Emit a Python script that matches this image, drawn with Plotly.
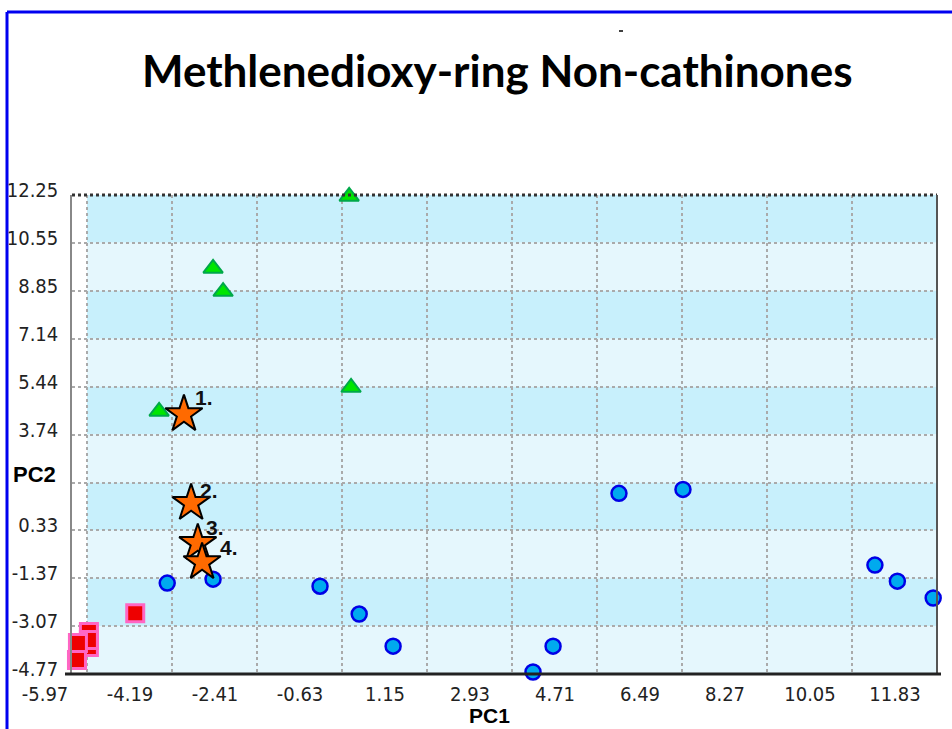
import plotly.graph_objects as go

# ---------------- data ----------------
x_ticks = [-5.97, -4.19, -2.41, -0.63, 1.15, 2.93, 4.71, 6.49, 8.27, 10.05, 11.83]
x_ticklabels = ["-5.97", "-4.19", "-2.41", "-0.63", "1.15", "2.93", "4.71", "6.49", "8.27", "10.05", "11.83"]
y_ticks = [12.25, 10.55, 8.85, 7.14, 5.44, 3.74, 2.03, 0.33, -1.37, -3.07, -4.77]
y_ticklabels = ["12.25", "10.55", "8.85", "7.14", "5.44", "3.74", "", "0.33", "-1.37", "-3.07", "-4.77"]

tri_x = [-0.48, -3.33, -3.12, -0.44, -4.46]
tri_y = [12.20, 9.64, 8.82, 5.41, 4.56]

circ_x = [-4.29, -3.33, -1.09, -0.27, 0.44, 3.79, 3.37, 5.17, 6.51, 10.53, 11.00, 11.75]
circ_y = [-1.54, -1.40, -1.65, -2.64, -3.78, -3.78, -4.70, 1.65, 1.79, -0.90, -1.47, -2.07]

sq_x = [-4.96, -5.93, -5.93, -5.93, -6.16, -6.18]
sq_y = [-2.61, -3.81, -3.28, -3.56, -3.67, -4.27]

star_x = [-3.94, -3.79, -3.65, -3.56]
star_y = [4.46, 1.30, -0.12, -0.80]
star_labels = ["1.", "2.", "3.", "4."]
label_dx = [20, 18, 17, 27]
label_dy = [17, 13, 16, 15]

title_text = "Methlenedioxy-ring Non-cathinones"

# ---------------- figure ----------------
W, H = 952, 729
ML, MR, MT, MB = 72, 15, 195, 55
PW = W - ML - MR
PH = H - MT - MB


def px_x(p):
    return (p - ML) / PW


def px_y(p):
    return (H - MB - p) / PH


fig = go.Figure()

fig.add_trace(go.Scatter(
    x=sq_x, y=sq_y, mode="markers", cliponaxis=False,
    marker=dict(symbol="square", size=17, color="#ee0000",
                line=dict(color="#ff66c4", width=3)),
    showlegend=False))

fig.add_trace(go.Scatter(
    x=circ_x, y=circ_y, mode="markers", cliponaxis=False,
    marker=dict(symbol="circle", size=15, color="#00aaee",
                line=dict(color="#0000e6", width=2.5)),
    showlegend=False))

fig.add_trace(go.Scatter(
    x=tri_x, y=tri_y, mode="markers", cliponaxis=False,
    marker=dict(symbol="triangle-up", size=17, color="#00e600",
                line=dict(color="#00a84a", width=2)),
    showlegend=False))

fig.add_trace(go.Scatter(
    x=star_x, y=star_y, mode="markers", cliponaxis=False,
    marker=dict(symbol="star", size=28, color="#ff6a00",
                line=dict(color="#000000", width=2)),
    showlegend=False))

for xv, yv, t, dx, dy in zip(star_x, star_y, star_labels, label_dx, label_dy):
    fig.add_annotation(x=xv, y=yv, text="<b>" + t + "</b>", showarrow=False, xshift=dx, yshift=dy,
                       font=dict(family="Liberation Sans, Arial", size=21, color="#111",
                                 weight="bold"),
                       xanchor="center", yanchor="middle")

# background bands
dark = "rgb(200,240,252)"
light = "rgb(229,247,253)"
for i in range(len(y_ticks) - 1):
    fig.add_shape(type="rect", xref="x", yref="y",
                  x0=x_ticks[0], x1=x_ticks[-1], y0=y_ticks[i + 1], y1=y_ticks[i],
                  fillcolor=dark if i % 2 == 0 else light, line=dict(width=0),
                  layer="below")

# plot frame
fig.add_shape(type="line", xref="paper", yref="paper", x0=0, x1=1, y0=1, y1=1,
              line=dict(color="#333", width=3, dash="dot"))
fig.add_shape(type="line", xref="paper", yref="paper", x0=1, x1=1, y0=0, y1=1,
              line=dict(color="#555", width=2))
fig.add_shape(type="line", xref="paper", yref="paper", x0=px_x(65), x1=px_x(941), y0=0, y1=0,
              line=dict(color="#222", width=3))

# blue slide frame
fig.add_shape(type="line", xref="paper", yref="paper", x0=px_x(7), x1=px_x(960),
              y0=px_y(12), y1=px_y(12), line=dict(color="#0000f0", width=3))
fig.add_shape(type="line", xref="paper", yref="paper", x0=px_x(7), x1=px_x(7),
              y0=px_y(12), y1=px_y(740), line=dict(color="#0000f0", width=3))
# tiny dash near the top
fig.add_shape(type="line", xref="paper", yref="paper", x0=px_x(619), x1=px_x(623),
              y0=px_y(31), y1=px_y(31), line=dict(color="#000", width=1.5))

# title and axis titles
fig.add_annotation(xref="paper", yref="paper", x=px_x(497), y=px_y(70), text="<b>" + title_text + "</b>",
                   showarrow=False, xanchor="center", yanchor="middle",
                   font=dict(family="Lato, Open Sans, sans-serif", size=44, color="#000"))
fig.add_annotation(xref="paper", yref="paper", x=px_x(34), y=px_y(474), text="<b>PC2</b>",
                   showarrow=False, xanchor="center", yanchor="middle",
                   font=dict(family="Liberation Sans, Arial", size=22, color="#000"))
fig.add_annotation(xref="paper", yref="paper", x=px_x(489), y=px_y(715), text="<b>PC1</b>",
                   showarrow=False, xanchor="center", yanchor="middle",
                   font=dict(family="Liberation Sans, Arial", size=21, color="#000"))

tick_font = dict(family="Liberation Sans Narrow, DejaVu Sans Condensed, Liberation Sans, Arial, sans-serif",
                 size=20, color="#222")

fig.update_xaxes(range=[x_ticks[0] - 15 / (85 / 1.78), x_ticks[-1]],
                 tickmode="array", tickvals=x_ticks, ticktext=x_ticklabels,
                 showgrid=True, gridcolor="#aaaaaa", griddash="dot", gridwidth=1.5,
                 zeroline=False, showline=False, ticks="", ticklabelshift=-42,
                 ticklabelstandoff=6, tickfont=tick_font, fixedrange=True)
fig.update_yaxes(range=[y_ticks[-1], y_ticks[0]],
                 tickmode="array", tickvals=y_ticks, ticktext=y_ticklabels,
                 showgrid=True, gridcolor="#aaaaaa", griddash="dot", gridwidth=1.5,
                 zeroline=False, showline=True, linecolor="#888", linewidth=1.5,
                 ticks="", ticklabelshift=-5, ticklabelstandoff=8, tickfont=tick_font,
                 fixedrange=True)

fig.update_layout(width=W, height=H, margin=dict(l=ML, r=MR, t=MT, b=MB, autoexpand=False),
                  paper_bgcolor="white", plot_bgcolor="white", showlegend=False)

fig.write_html("out.html")
